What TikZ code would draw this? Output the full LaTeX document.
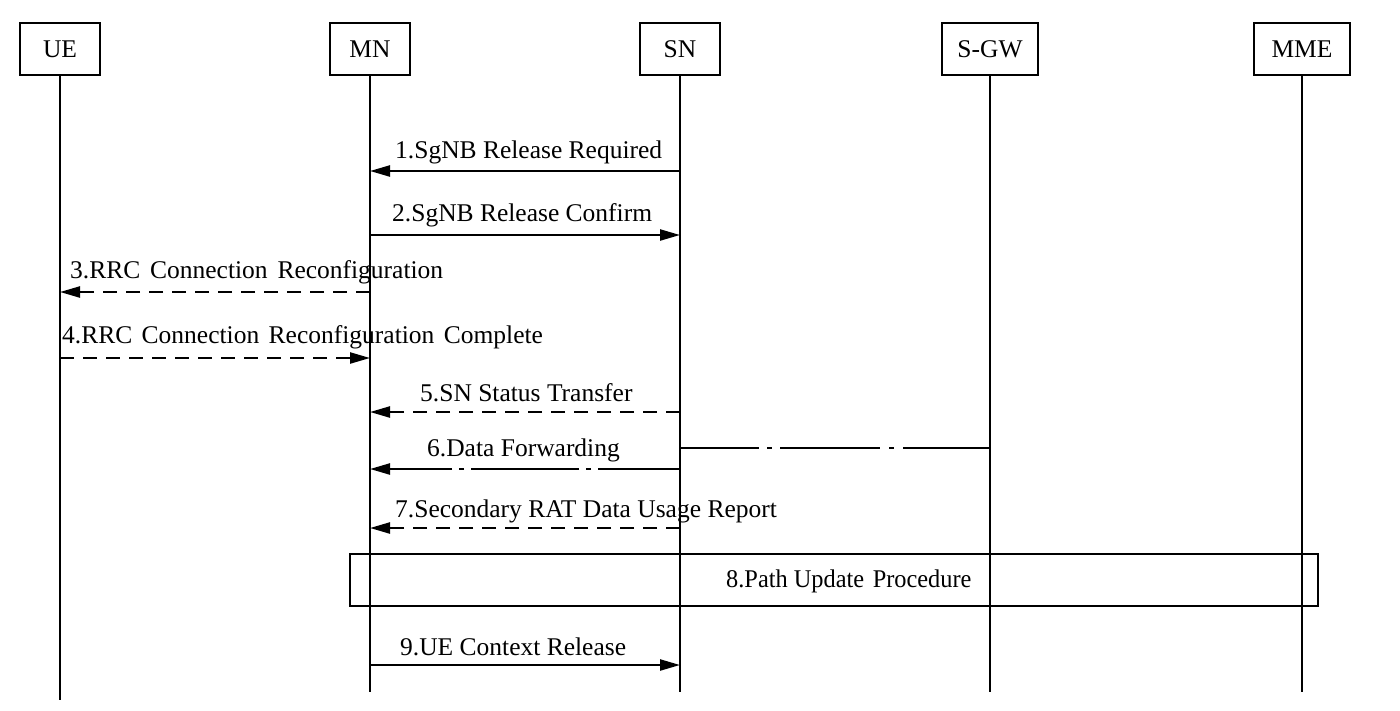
\documentclass[tikz,border=0pt]{standalone}
\usepackage{fontspec}
\setmainfont{Liberation Serif}
\usetikzlibrary{arrows.meta}
\begin{document}
\begin{tikzpicture}[x=1pt,y=-1pt,
  font=\fontsize{25.5}{30}\selectfont,
  ent/.style={draw,line width=2pt,minimum width=80pt,minimum height=52pt,inner sep=0pt},
  life/.style={line width=1.8pt},
  msg/.style={line width=2.3pt,-{Triangle[length=20pt,width=11pt]}},
  dsh/.style={dash pattern=on 14pt off 9pt},
  lbl/.style={anchor=base west,inner sep=0pt}]
\useasboundingbox (0,0) rectangle (1400,710);
% entities
\node[ent] (ue)  at (60,49)  {UE};
\node[ent] (mn)  at (370,49) {MN};
\node[ent] (sn)  at (680,49) {SN};
\node[ent,minimum width=96pt] (sgw) at (990,49) {S-GW};
\node[ent,minimum width=96pt] (mme) at (1302,49) {MME};
% lifeline ends
\coordinate (ueE)  at (60,700);
\coordinate (mnE)  at (370,692);
\coordinate (snE)  at (680,692);
\coordinate (sgwE) at (990,692);
\coordinate (mmeE) at (1302,692);
\draw[life] (ue.south) -- (ueE);
\draw[life] (mn.south) -- (mnE);
\draw[life] (sn.south) -- (snE);
\draw[life] (sgw.south) -- (sgwE);
\draw[life] (mme.south) -- (mmeE);
% messages
\draw[msg] (sn |- 0,171) -- (mn |- 0,171);
\node[lbl] (l1) at (395,158) {1.SgNB Release Required};
\draw[msg] (mn |- 0,235) -- (sn |- 0,235);
\node[lbl] (l2) at (392,221) {2.SgNB Release Confirm};
\draw[msg,dsh] (mn |- 0,292) -- (ue |- 0,292);
\node[lbl] (l3) at (70,278) {3.RRC\hspace{9.8pt}Connection\hspace{9.8pt}Reconfiguration};
\draw[msg,dsh] (ue |- 0,358) -- (mn |- 0,358);
\node[lbl] (l4) at (62,343) {4.RRC\hspace{9.4pt}Connection\hspace{9.4pt}Reconfiguration\hspace{9.4pt}Complete};
\draw[msg,dsh] (sn |- 0,412) -- (mn |- 0,412);
\node[lbl] (l5) at (420,401) {5.SN Status Transfer};
\draw[msg,dash pattern=on 82pt off 7pt on 5pt off 7pt on 108pt off 7pt on 5pt off 7pt on 200pt] (sn |- 0,469) -- (mn |- 0,469);
\node[lbl] (l6) at (427,456) {6.Data Forwarding};
\draw[line width=2.3pt,dash pattern=on 79pt off 8pt on 5pt off 8pt on 100pt off 9pt on 5pt off 9pt on 200pt] (sn |- 0,448) -- (sgw |- 0,448);
\draw[msg,dsh] (sn |- 0,528) -- (mn |- 0,528);
\node[lbl] (l7) at (395,517) {7.Secondary RAT Data Usage Report};
% procedure box
\node[draw,line width=2pt,minimum width=968pt,minimum height=52pt,inner sep=0pt] (p8) at (834,580) {};
\node[lbl] (l8) at (726,587) {\scalebox{0.955}[1]{8.Path Update\hspace{9pt}Procedure}};
\draw[msg] (mn |- 0,665) -- (sn |- 0,665);
\node[lbl] (l9) at (400,655) {9.UE Context Release};
\end{tikzpicture}
\end{document}
